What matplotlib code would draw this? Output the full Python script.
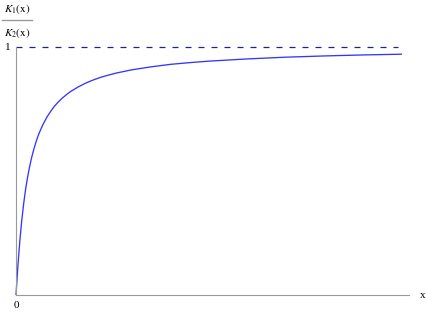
import matplotlib
matplotlib.use("Agg")
import matplotlib.pyplot as plt
from matplotlib.lines import Line2D

plt.rcParams['mathtext.fontset'] = 'stix'
plt.rcParams['font.family'] = ['Liberation Serif', 'DejaVu Serif']

# values
x_vals = [0, 0.1, 0.25, 0.35, 0.5, 0.75, 1.0, 1.25, 1.5, 1.75, 2.0, 2.25, 2.5, 2.75,
          3.0, 3.5, 4.0, 4.5, 5.0, 5.5, 6.0, 6.5, 7.0, 8.0, 9.0, 10.0, 11.0, 12.0,
          13.0, 15.0, 17.5, 20.0, 22.5, 25.0, 30.0, 35.0, 40.0, 45.0, 50.0]
ratio = [0.0, 0.049, 0.119, 0.160, 0.219, 0.302, 0.370, 0.428, 0.475, 0.515, 0.551,
         0.581, 0.608, 0.632, 0.653, 0.688, 0.717, 0.741, 0.762, 0.779, 0.794, 0.807,
         0.819, 0.838, 0.854, 0.867, 0.878, 0.887, 0.895, 0.908, 0.920, 0.930, 0.937,
         0.943, 0.952, 0.959, 0.964, 0.968, 0.971]
asymptote = 1.0
x_max = 50.9
dash_end = 49.5

W, H = 427, 314
fig = plt.figure(figsize=(W / 100, H / 100), dpi=100)
left, right, bottom, top = 16, 409, 295, 47
ax = fig.add_axes([left / W, (H - bottom) / H, (right - left) / W, (bottom - top) / H])
ax.set_xlim(0, x_max)
ax.set_ylim(0, 1)

ax.plot(x_vals, ratio, color='#3535ff', lw=0.95, solid_capstyle='butt',
        solid_joinstyle='round', clip_on=False)
dl, = ax.plot([0, dash_end], [asymptote, asymptote], color='#20209a', lw=0.9, clip_on=False)
dl.set_dashes((4.8, 5.6))

for s in ['top', 'right']:
    ax.spines[s].set_visible(False)
for s in ['left', 'bottom']:
    ax.spines[s].set_color('#999999')
    ax.spines[s].set_linewidth(0.8)
ax.set_xticks([])
ax.set_yticks([])

# tick labels
fig.text(8 / W, 1 - 47 / H, '1', ha='center', va='center', fontsize=8)
fig.text(16 / W, 1 - 305 / H, '0', ha='center', va='center', fontsize=8)
# x label
fig.text(423 / W, 1 - 296 / H, 'x', ha='center', va='center', fontsize=8)
# y label as a fraction
fig.text(17 / W, 1 - 9 / H, r'$K_1(\mathrm{x})$', ha='center', va='center', fontsize=8)
fig.text(17 / W, 1 - 33 / H, r'$K_2(\mathrm{x})$', ha='center', va='center', fontsize=8)
fig.add_artist(Line2D([2 / W, 32 / W], [1 - 20 / H, 1 - 20 / H], color='#999999', lw=1.0,
                      transform=fig.transFigure))

fig.savefig('out.png', dpi=100)
